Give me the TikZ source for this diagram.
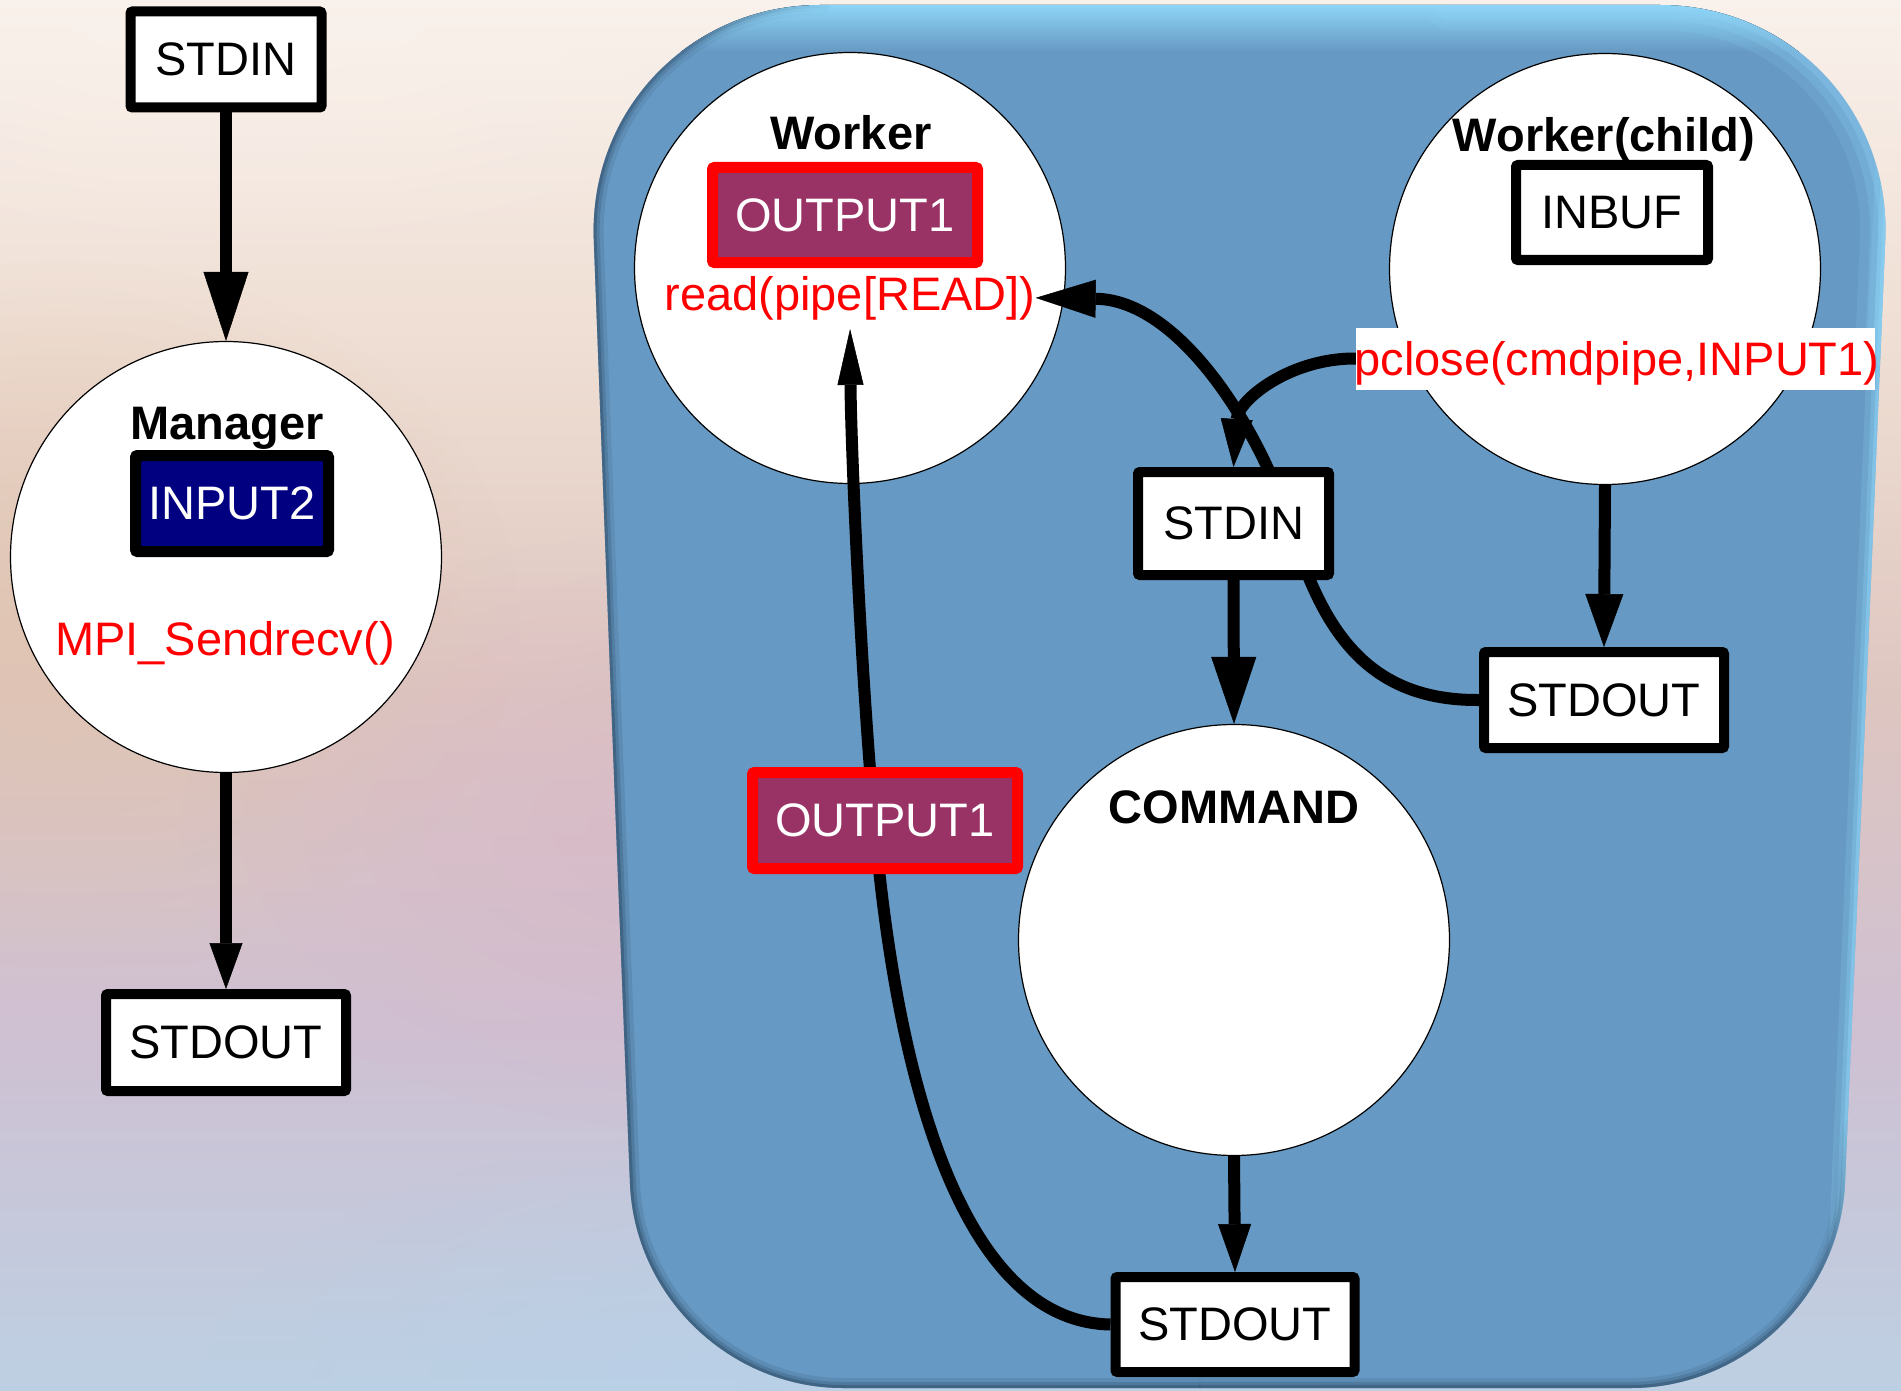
\documentclass[tikz,border=0pt]{standalone}
\usepackage{fontspec}
\setmainfont{Liberation Sans}
\usetikzlibrary{arrows.meta,fadings}

\definecolor{bluefill}{HTML}{6699C3}
\definecolor{bluehi}{HTML}{8FD6F8}
\definecolor{blueshadow}{HTML}{34526E}
\definecolor{navybox}{HTML}{000080}
\definecolor{plum}{HTML}{993366}
\definecolor{bgTop}{HTML}{F9F1EB}
\definecolor{bgUpper}{HTML}{EEDDD2}
\definecolor{bgMid}{HTML}{DEC6C0}
\definecolor{bgLow}{HTML}{CFC0D2}
\definecolor{bgBottom}{HTML}{BDD0E3}
\definecolor{tanblob}{HTML}{E0C3AE}
\definecolor{pinkblob}{HTML}{D7B5C9}
\definecolor{skyblob}{HTML}{B7D0E8}

% backdrop: light cream at the top, tan and mauve in the middle, pale blue at the bottom
\pgfdeclareverticalshading{backdrop}{100bp}{color(0bp)=(bgBottom); color(25bp)=(bgBottom); color(38bp)=(bgLow); color(50bp)=(bgMid); color(62bp)=(bgUpper); color(75bp)=(bgTop); color(100bp)=(bgTop)}

% soft round blob: opaque centre, transparent rim
\tikzfading[name=softblob, inner color=transparent!0, outer color=transparent!100]
% rim fadings: opaque on one side, gone on the other
\tikzfading[name=goneright, left color=transparent!0, right color=transparent!100]
\tikzfading[name=goneup, bottom color=transparent!0, top color=transparent!100]

\pgfdeclarelayer{bglayer}
\pgfdeclarelayer{circlayer}
\pgfdeclarelayer{edgelayer}
\pgfsetlayers{bglayer,circlayer,edgelayer,main}

\begin{document}
\begin{tikzpicture}[x=1pt,y=-1pt,
  txt/.style={font=\fontsize{47}{56}\selectfont, inner sep=0pt},
  ttl/.style={font=\fontsize{47}{56}\selectfont\bfseries, inner sep=0pt},
  proc/.style={circle, draw=black, line width=1.2pt, fill=white, minimum size=431pt, inner sep=0pt},
  buf/.style={draw=black, fill=white, line width=10pt, rounded corners=2pt, inner sep=0pt,
    font=\fontsize{47}{56}\selectfont},
  navybuf/.style={buf, fill=navybox, text=white, line width=11pt},
  plumbuf/.style={buf, draw=red, fill=plum, text=white, line width=11pt},
  edge/.style={draw=black, line width=12pt},
  redlbl/.style={txt, text=red}
]
\useasboundingbox (0,0) rectangle (1901,1391);

\begin{pgfonlayer}{bglayer}
  \fill[shading=backdrop] (0,0) rectangle (1901,1391);
  \fill[tanblob, path fading=softblob, opacity=0.75] (60,620) ellipse [x radius=460, y radius=360];
  \fill[pinkblob, path fading=softblob, opacity=0.6] (700,830) ellipse [x radius=520, y radius=300];
  \fill[skyblob, path fading=softblob, opacity=0.7] (760,1391) ellipse [x radius=560, y radius=260];
  \fill[bgTop, path fading=softblob, opacity=0.7] (250,0) ellipse [x radius=650, y radius=260];

  % the rounded blue panel with a lit upper rim and a dark lower rim
  \begin{scope}
    \clip (611,700) [rounded corners=235pt] -- (585,5) -- (1895,5) -- (1866,700)
      [rounded corners=205pt] -- (1836,1388) -- (638,1388) -- cycle;
    \fill[bluefill] (0,0) rectangle (1901,1391);
    % light band along the top
    \fill[top color=bluehi, bottom color=bluefill] (560,4) rectangle (1901,52);
    % light rim down the right side
    \foreach \w/\o in {26/0.2,14/0.3,6/0.45}
      \draw[bluehi, line width=\w pt, opacity=\o] (1896.5,-30) -- (1834.5,1420);
    % light rim round the upper right corner
    \foreach \w/\o in {50/0.14,30/0.2,14/0.28}
      \draw[bluehi, line width=\w pt, opacity=\o, line cap=round, rounded corners=235pt]
        (1450,5) -- (1895,5) -- (1880,350);
    % dark rim: lower right corner, fading out up the right side
    \foreach \w/\o in {20/0.18,12/0.3,6/0.55}
      \draw[blueshadow, line width=\w pt, opacity=\o, path fading=goneup, rounded corners=205pt]
        (1847,1120) -- (1836,1388) -- (1200,1388);
    % dark rim: bottom, lower left corner and left side
    \foreach \w/\o in {20/0.18,12/0.3,6/0.55}
      \draw[blueshadow, line width=\w pt, opacity=\o, rounded corners=205pt]
        (1200,1388) -- (638,1388) -- (611,700);
    % dark rim: upper left corner, fading out along the top
    \foreach \w/\o in {20/0.18,12/0.3,6/0.55}
      \draw[blueshadow, line width=\w pt, opacity=\o, path fading=goneright, rounded corners=235pt]
        (611,700) -- (585,5) -- (830,5);
  \end{scope}
\end{pgfonlayer}

% processes
\begin{pgfonlayer}{circlayer}
  \node[proc] (mgr)    at (226,557)  {};
  \node[proc] (wrk)    at (850,268)  {};
  \node[proc] (wchild) at (1605,269) {};
  \node[proc] (cmd)    at (1234,940) {};
\end{pgfonlayer}

\node[ttl, anchor=base] (mgrT)    at (227,439)  {Manager};
\node[ttl, anchor=base] (wrkT)    at (851,150)  {Worker};
\node[ttl, anchor=base] (wchildT) at (1604,152) {Worker(child)};
\node[ttl, anchor=base] (cmdT)    at (1234,823) {COMMAND};

% buffers and streams
\node[buf, minimum width=191pt, minimum height=96pt] (stdinA)  at (226,59.5)    {STDIN};
\node[navybuf, minimum width=193pt, minimum height=96pt] (inTwo) at (232,503.5) {INPUT2};
\node[buf, minimum width=240pt, minimum height=97pt] (stdoutA) at (226,1042.5)  {STDOUT};
\node[plumbuf, minimum width=265pt, minimum height=95pt] (outA) at (845,215)    {OUTPUT1};
\node[buf, minimum width=191pt, minimum height=103pt] (stdinB) at (1233.5,523.5) {STDIN};
\node[buf, minimum width=192pt, minimum height=95pt] (inbuf)   at (1612,212.5)  {INBUF};
\node[buf, minimum width=240pt, minimum height=96pt] (stdoutB) at (1604,700)    {STDOUT};
\node[plumbuf, minimum width=265pt, minimum height=96pt] (outB) at (885,820.5)  {OUTPUT1};
\node[buf, minimum width=239pt, minimum height=95pt] (stdoutC) at (1235,1324.5) {STDOUT};

% call labels
\node[redlbl, anchor=base] (mpi)  at (225,655) {MPI\_Sendrecv()};
\node[redlbl, anchor=base] (read) at (850,310) {read(pipe[READ])};
\node[fill=white, inner sep=0pt, minimum width=519pt, minimum height=62pt] (pclbg) at (1615.5,358.5) {};
\node[redlbl, anchor=base] (pcl) at (1617,375) {pclose(cmdpipe,INPUT1)};

% connectors
\begin{pgfonlayer}{edgelayer}
  \draw[edge, -{Triangle[length=69pt,width=45pt,line width=0.5pt]}] (stdinA.south) -- (mgr.north);
  \draw[edge, -{Triangle[length=46pt,width=33pt,line width=0.5pt]}] (mgr.south) -- (stdoutA.north);
  \draw[edge, -{Triangle[length=60pt,width=38pt,line width=0.5pt]}]
    (stdoutB.west) .. controls (1360,701) and (1320,620) .. (1290,525)
                   .. controls (1260,430) and (1180,300) .. (read.east);
  \draw[edge, shorten >=9pt, -{Triangle[length=56pt,width=26pt,line width=0.5pt]}]
    (stdoutC.west) .. controls (975,1322) and (905,1120) .. (878,860)
                   .. controls (862,704) and (851,450) .. (read.south);
  \draw[edge, -{Triangle[length=48pt,width=32pt,line width=0.5pt]}]
    (pclbg.west) .. controls (1290,358) and (1238,400) .. (stdinB.north);
  \draw[edge, -{Triangle[length=53pt,width=38pt,line width=0.5pt]}] (wchild.south) -- (stdoutB.north);
  \draw[edge, -{Triangle[length=67pt,width=45pt,line width=0.5pt]}] (stdinB.south) -- (cmd.north);
  \draw[edge, -{Triangle[length=48pt,width=33pt,line width=0.5pt]}] (cmd.south) -- (stdoutC.north);
\end{pgfonlayer}
\end{tikzpicture}
\end{document}
